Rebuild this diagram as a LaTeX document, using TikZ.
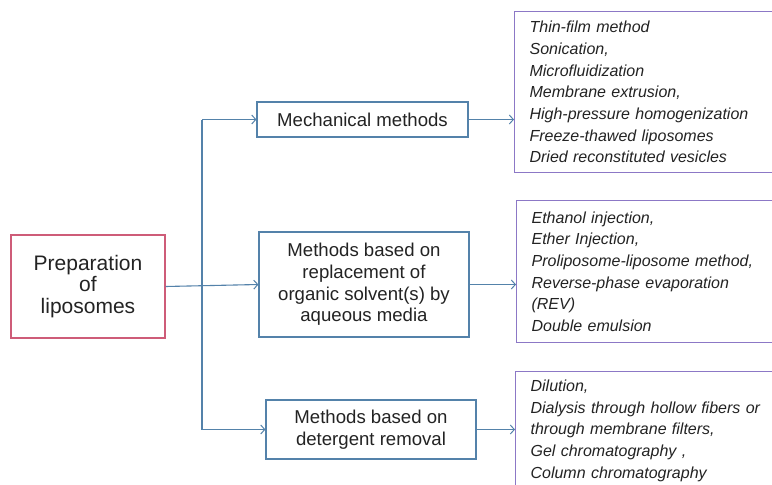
\documentclass[tikz,border=0pt]{standalone}
\usepackage{fontspec}
\setmainfont{Liberation Sans}
\usetikzlibrary{arrows.meta}
\definecolor{lineblue}{RGB}{84,130,170}
\definecolor{rootpink}{RGB}{206,92,120}
\definecolor{listpurple}{RGB}{140,120,198}
\definecolor{txt}{RGB}{35,35,35}
\tikzset{
  rootbox/.style={draw=rootpink, line width=1.2pt, fill=white, text=txt, align=center,
    font=\fontsize{21}{21.5}\selectfont, inner sep=0pt},
  methbox/.style={draw=lineblue, line width=1.2pt, fill=white, text=txt, align=center,
    font=\fontsize{18.6}{21.7}\selectfont, inner sep=0pt},
  listbox/.style={draw=listpurple, line width=1.2pt, fill=white, text=txt, align=left,
    font=\fontsize{16}{21.7}\selectfont\itshape, text width=260pt, inner xsep=15pt,
    inner ysep=0pt, anchor=north west},
  conn/.style={draw=lineblue, line width=1.1pt},
  arr/.style={conn, -{Straight Barb[length=4pt,width=9pt,line width=1pt]}}
}
\begin{document}
\begin{tikzpicture}[x=1pt,y=-1pt]
\useasboundingbox (0,0) rectangle (772,485);
\clip (0,0) rectangle (772,485);
\fill[white] (0,0) rectangle (772,485);

% root
\node[rootbox, minimum width=154pt, minimum height=103pt] (L) at (88,286.5)
  {Preparation\\of\\liposomes};

% method boxes
\node[methbox, minimum width=211pt, minimum height=35pt] (A) at (362.5,119.5)
  {Mechanical methods};
\node[methbox, minimum width=210pt, minimum height=105pt] (M) at (364,284.5)
  {Methods based on\\replacement of\\organic solvent(s) by\\aqueous media};
\node[methbox, minimum width=210pt, minimum height=59pt] (D) at (371,429.5)
  {Methods based on\\detergent removal};

% lists
\node[listbox, minimum height=161pt] (K1) at (514,11)
  {Thin-film method\\Sonication,\\Microfluidization\\Membrane extrusion,\\High-pressure homogenization\\Freeze-thawed liposomes\\Dried reconstituted vesicles};
\node[listbox, minimum height=142pt] (K2) at (516,200)
  {Ethanol injection,\\Ether Injection,\\Proliposome-liposome method,\\Reverse-phase evaporation\\(REV)\\Double emulsion};
\node[listbox, minimum height=118pt] (K3) at (515,371)
  {Dilution,\\Dialysis through hollow fibers or\\through membrane filters,\\Gel chromatography ,\\Column chromatography};

% trunk
\coordinate (t) at (202,119.5);
\coordinate (b) at (202,429.5);
\draw[conn] (t) -- (b);
\draw[arr] (t) -- (A.west);
\draw[arr] (b) -- (D.west);
\draw[arr] (L.east) -- (M.west);

% to lists
\draw[arr] (A.east) -- (A.east -| K1.west);
\draw[arr] (M.east) -- (M.east -| K2.west);
\draw[arr] (D.east) -- (D.east -| K3.west);
\end{tikzpicture}
\end{document}
